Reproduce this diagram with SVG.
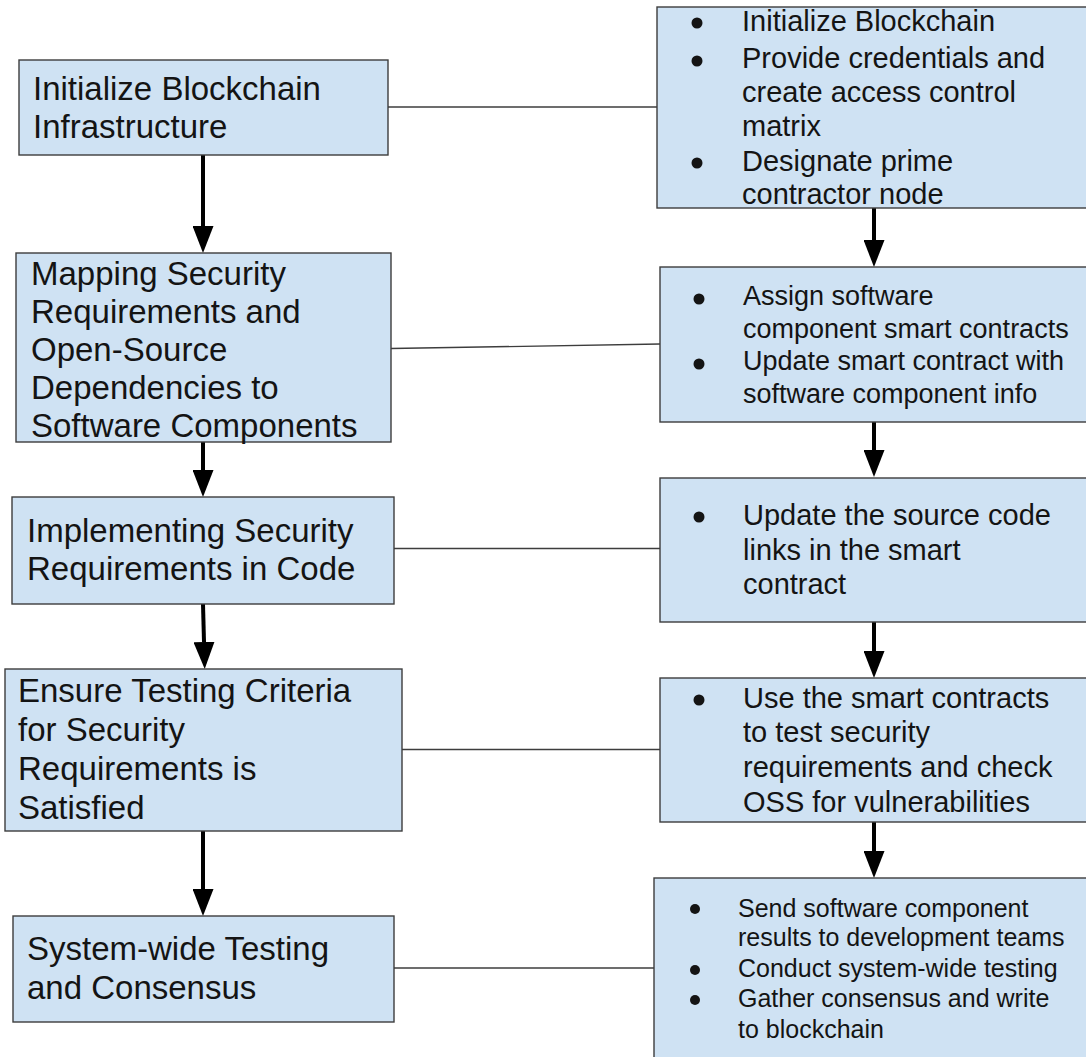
<svg xmlns="http://www.w3.org/2000/svg" width="1086" height="1057" viewBox="0 0 1086 1057">
  <style>
    .box { fill: #cfe2f3; stroke: #3d3d3d; stroke-width: 1.4; }
    .t { font-family: "Liberation Sans", Arial, sans-serif; fill: #141414; }
    .lg { font-size: 33px; }
    .md { font-size: 29px; }
    .sm { font-size: 27px; }
    .xs { font-size: 25px; }
    .dot { fill: #141414; }
    .link { stroke: #3d3d3d; stroke-width: 1.3; fill: none; }
    .flow { stroke: #000; stroke-width: 4; fill: none; marker-end: url(#head); }
  </style>
  <defs>
    <marker id="head" markerUnits="userSpaceOnUse" markerWidth="27" markerHeight="21" viewBox="0 0 27 21" refX="0" refY="10.5" orient="auto">
      <path d="M0,0 L27,10.5 L0,21 Z" fill="#000"/>
    </marker>
  </defs>
  <rect width="1086" height="1057" fill="#ffffff"/>

  <!-- connectors -->
  <g id="connectors">
    <line class="link" x1="388" y1="107" x2="657" y2="107"/>
    <line class="link" x1="391" y1="348.5" x2="660" y2="344"/>
    <line class="link" x1="394" y1="548.5" x2="660" y2="548.5"/>
    <line class="link" x1="402" y1="749.5" x2="660" y2="749.5"/>
    <line class="link" x1="394" y1="968" x2="654" y2="968"/>

    <line class="flow" x1="203" y1="155" x2="203" y2="226"/>
    <line class="flow" x1="203" y1="442" x2="203" y2="470"/>
    <line class="flow" x1="203" y1="604" x2="204" y2="642"/>
    <line class="flow" x1="203" y1="831" x2="203" y2="889"/>

    <line class="flow" x1="874" y1="208" x2="874" y2="240"/>
    <line class="flow" x1="874" y1="422" x2="874" y2="450"/>
    <line class="flow" x1="874" y1="622" x2="874" y2="651"/>
    <line class="flow" x1="874" y1="822" x2="874" y2="851"/>
  </g>

  <!-- left column: process stages -->
  <g id="stage-init">
    <rect class="box" x="19" y="60" width="369" height="95"/>
    <text class="t lg" x="33" y="100">Initialize Blockchain</text>
    <text class="t lg" x="33" y="138">Infrastructure</text>
  </g>
  <g id="stage-mapping">
    <rect class="box" x="16" y="253" width="375" height="189"/>
    <text class="t lg" x="31" y="285">Mapping Security</text>
    <text class="t lg" x="31" y="323">Requirements and</text>
    <text class="t lg" x="31" y="361">Open-Source</text>
    <text class="t lg" x="31" y="399">Dependencies to</text>
    <text class="t lg" x="31" y="437">Software Components</text>
  </g>
  <g id="stage-implement">
    <rect class="box" x="12" y="497" width="382" height="107"/>
    <text class="t lg" x="27" y="542">Implementing Security</text>
    <text class="t lg" x="27" y="580">Requirements in Code</text>
  </g>
  <g id="stage-testing">
    <rect class="box" x="5" y="669" width="397" height="162"/>
    <text class="t lg" x="18" y="702">Ensure Testing Criteria</text>
    <text class="t lg" x="18" y="741">for Security</text>
    <text class="t lg" x="18" y="780">Requirements is</text>
    <text class="t lg" x="18" y="819">Satisfied</text>
  </g>
  <g id="stage-system">
    <rect class="box" x="13" y="916" width="381" height="106"/>
    <text class="t lg" x="27" y="960">System-wide Testing</text>
    <text class="t lg" x="27" y="999">and Consensus</text>
  </g>

  <!-- right column: blockchain actions -->
  <g id="actions-init">
    <rect class="box" x="657" y="7" width="440" height="201"/>
    <circle class="dot" cx="697" cy="23" r="5.5"/>
    <circle class="dot" cx="697" cy="61" r="5.5"/>
    <circle class="dot" cx="697" cy="163" r="5.5"/>
    <text class="t md" x="742" y="31">Initialize Blockchain</text>
    <text class="t md" x="742" y="68">Provide credentials and</text>
    <text class="t md" x="742" y="102">create access control</text>
    <text class="t md" x="742" y="136">matrix</text>
    <text class="t md" x="742" y="171">Designate prime</text>
    <text class="t md" x="742" y="204">contractor node</text>
  </g>
  <g id="actions-mapping">
    <rect class="box" x="660" y="267" width="437" height="155"/>
    <circle class="dot" cx="699" cy="299" r="5.5"/>
    <circle class="dot" cx="699" cy="364" r="5.5"/>
    <text class="t sm" x="743" y="305">Assign software</text>
    <text class="t sm" x="743" y="338">component smart contracts</text>
    <text class="t sm" x="743" y="370">Update smart contract with</text>
    <text class="t sm" x="743" y="403">software component info</text>
  </g>
  <g id="actions-implement">
    <rect class="box" x="660" y="478" width="437" height="144"/>
    <circle class="dot" cx="699" cy="517" r="5.5"/>
    <text class="t md" x="743" y="525">Update the source code</text>
    <text class="t md" x="743" y="560">links in the smart</text>
    <text class="t md" x="743" y="594">contract</text>
  </g>
  <g id="actions-testing">
    <rect class="box" x="660" y="678" width="437" height="144"/>
    <circle class="dot" cx="699" cy="700" r="5.5"/>
    <text class="t md" x="743" y="708">Use the smart contracts</text>
    <text class="t md" x="743" y="742">to test security</text>
    <text class="t md" x="743" y="777">requirements and check</text>
    <text class="t md" x="743" y="812">OSS for vulnerabilities</text>
  </g>
  <g id="actions-system">
    <rect class="box" x="654" y="878" width="443" height="190"/>
    <circle class="dot" cx="695" cy="909" r="5"/>
    <circle class="dot" cx="695" cy="970" r="5"/>
    <circle class="dot" cx="695" cy="1000" r="5"/>
    <text class="t xs" x="738" y="917">Send software component</text>
    <text class="t xs" x="738" y="946">results to development teams</text>
    <text class="t xs" x="738" y="977">Conduct system-wide testing</text>
    <text class="t xs" x="738" y="1007">Gather consensus and write</text>
    <text class="t xs" x="738" y="1038">to blockchain</text>
  </g>
</svg>
